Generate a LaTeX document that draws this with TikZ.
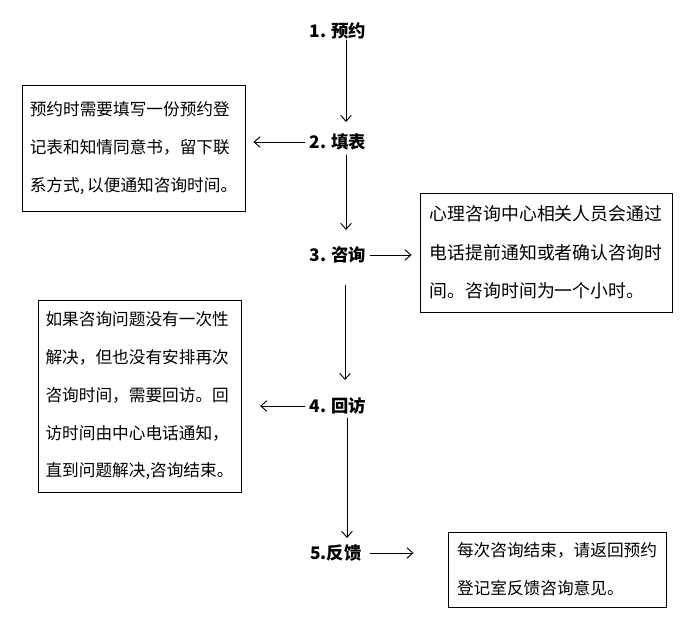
\documentclass[tikz,border=0pt]{standalone}
\usepackage{fontspec}
\setmainfont{Noto Sans CJK SC}
\usetikzlibrary{arrows.meta}
\begin{document}
\begin{tikzpicture}[x=0.75pt,y=-0.75pt,line cap=round,>={Straight Barb[length=4.5pt,width=8pt]},
    stage/.style={inner sep=0pt,font=\fontsize{13}{15}\selectfont\bfseries},
    note/.style={draw,line width=0.7pt,inner sep=0pt,align=left,
      font=\fontsize{12.5}{28.3}\selectfont},
    link/.style={line width=0.7pt,->}]
  \useasboundingbox (0,0) rectangle (689,627);
  \node[stage] (s1) at (338,31) {1. 预约};
  \node[stage] (s2) at (338,142) {2. 填表};
  \node[stage] (s3) at (338,255) {3. 咨询};
  \node[stage] (s4) at (338,406) {4. 回访};
  \node[stage] (s5) at (336,553) {5.反馈};
  \node[note,minimum width=167.25pt,minimum height=94.5pt] (n1) at (133.5,148)
    {预约时需要填写一份预约登\\记表和知情同意书，留下联\\系方式,\,以便通知咨询时间。};
  \node[note,minimum width=189pt,minimum height=89.25pt,
    font=\fontsize{13.4}{28.8}\selectfont] (n2) at (546,252.5)
    {心理咨询中心相关人员会通过\\电话提前通知或者确认咨询时\\间。咨询时间为一个小时。};
  \node[note,minimum width=152.25pt,minimum height=144pt] (n3) at (139.5,396)
    {如果咨询问题没有一次性\\解决，但也没有安排再次\\咨询时间，需要回访。回\\访时间由中心电话通知，\\直到问题解决,咨询结束。};
  \node[note,minimum width=163.5pt,minimum height=56.25pt] (n4) at (557,569.5)
    {每次咨询结束，请返回预约\\登记室反馈咨询意见。};
  \draw[link] ([shift={(8,9)}]s1.center) -- ([shift={(8,-20)}]s2.center);
  \draw[link] ([shift={(8,13)}]s2.center) -- ([shift={(8,-25)}]s3.center);
  \draw[link] ([shift={(7,30)}]s3.center) -- ([shift={(7,-26)}]s4.center);
  \draw[link] ([shift={(9,12)}]s4.center) -- ([shift={(11,-15)}]s5.center);
  \draw[link,shorten >=6pt] ([shift={(-33,0)}]s2.center) -- (s2.center -| n1.east);
  \draw[link,shorten >=6pt] ([shift={(32,0)}]s3.center) -- (s3.center -| n2.west);
  \draw[link,shorten >=14pt] ([shift={(-33,0)}]s4.center) -- (s4.center -| n3.east);
  \draw[link,shorten >=25.5pt] ([shift={(34,0)}]s5.center) -- (s5.center -| n4.west);
\end{tikzpicture}
\end{document}
